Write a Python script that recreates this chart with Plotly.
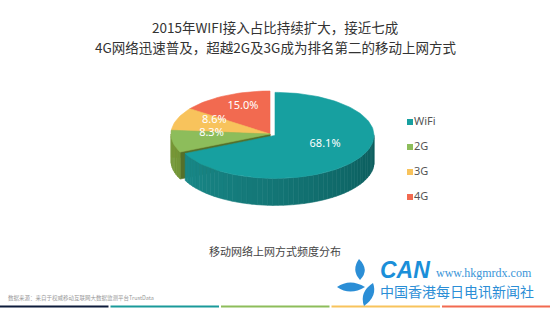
import numpy as np
import plotly.graph_objects as go

# ---------------- data ----------------
categories = ["WiFi", "2G", "3G", "4G"]
values = [68.1, 8.3, 8.6, 15.0]

title_line1 = "2015年WIFI接入占比持续扩大，接近七成"
title_line2 = "4G网络迅速普及，超越2G及3G成为排名第二的移动上网方式"
subtitle = "移动网络上网方式频度分布"
source = "数据来源：来自于权威移动互联网大数据监测平台TrustData"

# ---------------- styles ----------------
top_colors = ["#17a0a0", "#8dbd5b", "#f8c35c", "#f26a50"]
side_light = ["#1b8f8f", "#76993a", "#dca541", "#cf5540"]
side_dark = ["#0b5b5b", "#5b7d28", "#b98528", "#a8412f"]
face_colors = ["#0e6666", "#55702a", "#b98528", "#a8412f"]
explode = [0.06, 0, 0, 0]

CX, CY, RX, RY, DEPTH = 270, 134, 99, 43, 27

fig = go.Figure()


def hex2rgb(h):
    h = h.lstrip("#")
    return np.array([int(h[i:i + 2], 16) for i in (0, 2, 4)], dtype=float)


def mix(c1, c2, t):
    a, b = hex2rgb(c1), hex2rgb(c2)
    c = a + (b - a) * t
    return "rgb(%d,%d,%d)" % tuple(np.round(c))


def ell(cx, cy, th, r=1.0):
    t = np.radians(th)
    return cx + RX * r * np.sin(t), cy - RY * r * np.cos(t)


def poly(xs, ys, color):
    fig.add_trace(go.Scatter(
        x=list(xs) + [xs[0]], y=list(ys) + [ys[0]], fill="toself", fillcolor=color,
        mode="lines", line=dict(color=color, width=0.6),
        hoverinfo="skip", showlegend=False))


total = float(sum(values))
bounds = np.concatenate([[0.0], np.cumsum(values)]) / total * 360.0

label_x, label_y, label_t = [], [], []

for i in [3, 2, 1, 0]:
    s, e = bounds[i], bounds[i + 1]
    mid = (s + e) / 2
    ox = explode[i] * RX * np.sin(np.radians(mid))
    oy = -explode[i] * RY * np.cos(np.radians(mid))
    cx, cy = CX + ox, CY + oy

    # radial faces
    for ang, vis in ((s, np.sin(np.radians(s)) < -1e-6), (e, np.sin(np.radians(e)) > 1e-6)):
        if vis and explode[i] == 0:
            ex, ey = ell(cx, cy, ang)
            poly([cx, ex, ex, cx], [cy, ey, ey + DEPTH, cy + DEPTH], face_colors[i])

    # outer side
    a, b = max(s, 90.0), min(e, 270.0)
    if b > a:
        n = max(2, int((b - a) / 3))
        edges = np.linspace(a, b, n + 1)
        for k in range(n):
            th = np.linspace(edges[k], edges[k + 1], 4)
            xs, ys = ell(cx, cy, th)
            t = ((edges[k] + edges[k + 1]) / 2 - 90) / 180.0
            col = mix(side_dark[i], side_light[i], t)
            poly(np.concatenate([xs, xs[::-1]]),
                 np.concatenate([ys, ys[::-1] + DEPTH]), col)

    # top face
    th = np.linspace(s, e, max(8, int((e - s) / 2)))
    xs, ys = ell(cx, cy, th)
    poly(np.concatenate([[cx], xs]), np.concatenate([[cy], ys]), top_colors[i])

    lx, ly = ell(cx, cy, mid, 0.6)
    label_x.append(lx)
    label_y.append(ly - 5)
    label_t.append("%.1f%%" % values[i])

fig.add_trace(go.Scatter(
    x=label_x, y=label_y, text=label_t, mode="text",
    textfont=dict(family="Noto Sans, sans-serif", size=11, color="#ffffff"),
    hoverinfo="skip", showlegend=False))

# legend
LX, LY, LSTEP = 410, 122, 25
fig.add_trace(go.Scatter(
    x=[LX] * len(categories), y=[LY + LSTEP * k for k in range(len(categories))],
    mode="markers", marker=dict(symbol="square", size=6, color=top_colors, line=dict(width=0)),
    hoverinfo="skip", showlegend=False))
fig.add_trace(go.Scatter(
    x=[LX + 4] * len(categories), y=[LY + LSTEP * k for k in range(len(categories))],
    mode="text", text=categories, textposition="middle right",
    textfont=dict(family="Noto Sans, sans-serif", size=11, color="#555555"),
    hoverinfo="skip", showlegend=False))

cjk = "Noto Sans CJK SC, sans-serif"
ann = [
    dict(x=275, y=27, text=title_line1, font=dict(family=cjk, size=13.5, color="#333333")),
    dict(x=275, y=47, text=title_line2, font=dict(family=cjk, size=13.5, color="#333333")),
    dict(x=275, y=251, text=subtitle, font=dict(family=cjk, size=11, color="#444444")),
    dict(x=6, y=298, text=source, xanchor="left", font=dict(family=cjk, size=5.5, color="#999999")),
    dict(x=378, y=270, text="<b><i>CAN</i></b>", xanchor="left",
         font=dict(family="Liberation Sans, sans-serif", size=23, color="#1b8fd9")),
    dict(x=434, y=273, text="www.hkgmrdx.com", xanchor="left",
         font=dict(family="Liberation Serif, serif", size=12, color="#3a95d8")),
    dict(x=378, y=291, text="中国香港每日电讯新闻社", xanchor="left",
         font=dict(family=cjk, size=14, color="#2b8ed6")),
]
for a in ann:
    a.update(xref="x", yref="y", showarrow=False, yanchor="middle", xanchor=a.get("xanchor", "center"))

shapes = []
stripe_colors = ["#0d1b3a", "#1a9a9a", "#8dbd5b", "#f8c35c", "#f26a50"]
for k, c in enumerate(stripe_colors):
    x0 = k * 110.5
    shapes.append(dict(type="rect", xref="x", yref="y", x0=x0, x1=x0 + 108.5,
                       y0=305.5, y1=307.5, fillcolor=c, line=dict(width=0), layer="above"))
leaf = "#2b8ed6"
for p in ["M 359 259 Q 351 270 360 280 Q 370 270 359 259 Z",
          "M 337 287 Q 350 278 365 287 Q 350 296 337 287 Z",
          "M 373 283 Q 378 296 364 306 Q 359 292 373 283 Z"]:
    shapes.append(dict(type="path", path=p, xref="x", yref="y", fillcolor=leaf,
                       line=dict(width=0), layer="above"))

fig.update_layout(
    width=550, height=309, margin=dict(l=0, r=0, t=0, b=0),
    paper_bgcolor="white", plot_bgcolor="white",
    xaxis=dict(range=[0, 550], visible=False, fixedrange=True, domain=[0, 1]),
    yaxis=dict(range=[309, 0], visible=False, fixedrange=True, domain=[0, 1]),
    annotations=ann, shapes=shapes, showlegend=False,
)

fig.write_html("out.html")
